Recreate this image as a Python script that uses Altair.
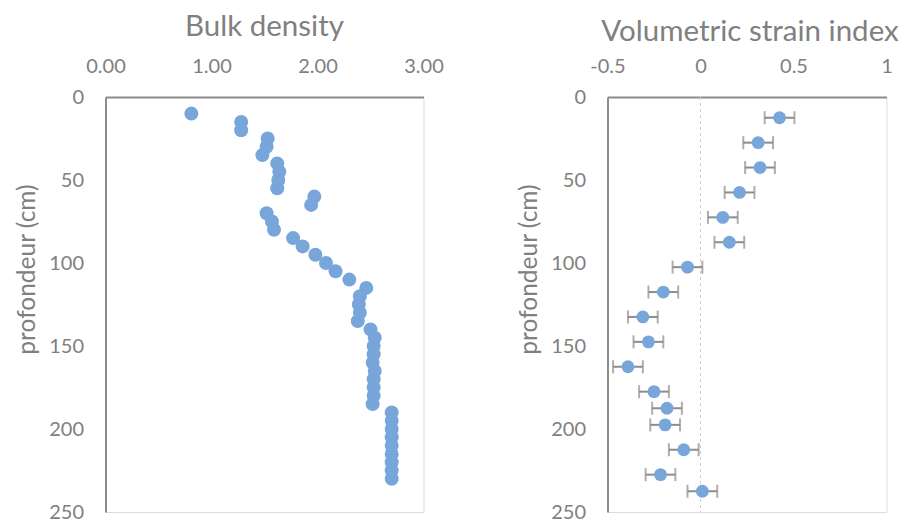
import altair as alt
import pandas as pd

# Bulk density profile
depth_bd = [10, 15, 20, 25, 30, 35, 40, 45, 50, 55, 60, 65, 70, 75, 80, 85, 90, 95,
            100, 105, 110, 115, 120, 125, 130, 135, 140, 145, 150, 155, 160, 165,
            170, 175, 180, 185, 190, 195, 200, 205, 210, 215, 220, 225, 230]
bulk_density = [0.81, 1.28, 1.28, 1.53, 1.52, 1.48, 1.62, 1.64, 1.63, 1.62, 1.97, 1.94,
                1.52, 1.57, 1.59, 1.77, 1.86, 1.98, 2.08, 2.17, 2.30, 2.46, 2.40, 2.39,
                2.40, 2.38, 2.50, 2.54, 2.53, 2.53, 2.52, 2.54, 2.53, 2.53, 2.53, 2.52,
                2.70, 2.70, 2.70, 2.70, 2.70, 2.70, 2.70, 2.70, 2.70]

# Volumetric strain index profile
depth_vsi = [12.5, 27.5, 42.5, 57.5, 72.5, 87.5, 102.5, 117.5, 132.5, 147.5, 162.5,
             177.5, 187.5, 197.5, 212.5, 227.5, 237.5]
vsi = [0.425, 0.31, 0.32, 0.21, 0.12, 0.155, -0.07, -0.20, -0.31, -0.28, -0.39,
       -0.25, -0.18, -0.19, -0.09, -0.215, 0.01]
vsi_err = [0.08] * len(vsi)

zero_line = [0]

x_ticks_bd = [0, 1, 2, 3]
x_ticks_vsi = [-0.5, 0, 0.5, 1]
y_ticks = [0, 50, 100, 150, 200, 250]

df_bd = pd.DataFrame({"depth": depth_bd, "bd": bulk_density})
df_vsi = pd.DataFrame({"depth": depth_vsi, "vsi": vsi, "err": vsi_err})
df_zero = pd.DataFrame({"x": zero_line})

FONT = "Lato"
GREY = "#808080"
AXIS_GREY = "#8c8c8c"
BLUE = "#78a6da"

y_axis = alt.Axis(
    values=y_ticks, title="profondeur (cm)", grid=False, ticks=False,
    domainColor=AXIS_GREY, domainWidth=2, labelColor=GREY, labelFont=FONT,
    labelFontSize=20, labelPadding=22, titleFont=FONT, titleFontSize=24.5,
    titleColor=GREY, titleFontWeight="normal", titlePadding=9, titleY=172,
)
y_enc = alt.Y("depth:Q", scale=alt.Scale(domain=[0, 250], reverse=True, nice=False),
              axis=y_axis)


def x_axis(values, **kw):
    return alt.Axis(
        orient="top", values=values, title=None, grid=False, ticks=False,
        domainColor=AXIS_GREY, domainWidth=2, labelColor=GREY, labelFont=FONT,
        labelFontSize=20, labelPadding=21, labelFlush=False, labelOverlap=False, **kw
    )


left = alt.Chart(df_bd).mark_circle(size=195, color=BLUE, opacity=1).encode(
    x=alt.X("bd:Q", scale=alt.Scale(domain=[0, 3], nice=False),
            axis=x_axis(x_ticks_bd, format=".2f")),
    y=y_enc,
).properties(
    width=318, height=415,
    title=alt.TitleParams("Bulk density", font=FONT, fontSize=29.5, color=GREY,
                          fontWeight="normal", anchor="middle", offset=14),
)

x_vsi = alt.X("vsi:Q", scale=alt.Scale(domain=[-0.5, 1], nice=False),
              axis=x_axis(x_ticks_vsi, labelExpr="datum.value + ''"))

base_r = alt.Chart(df_vsi).transform_calculate(
    lo="datum.vsi - datum.err", hi="datum.vsi + datum.err"
)

rule0 = alt.Chart(df_zero).mark_rule(color="#cfcfcf", strokeDash=[3, 3], strokeWidth=1).encode(
    x=alt.X("x:Q", scale=alt.Scale(domain=[-0.5, 1], nice=False))
)
bars = base_r.mark_rule(color=AXIS_GREY, strokeWidth=2).encode(
    x=alt.X("lo:Q"), x2="hi:Q", y=y_enc
)
caps_lo = base_r.mark_tick(color=AXIS_GREY, orient="vertical", size=13, thickness=2).encode(
    x="lo:Q", y=y_enc
)
caps_hi = base_r.mark_tick(color=AXIS_GREY, orient="vertical", size=13, thickness=2).encode(
    x="hi:Q", y=y_enc
)
pts = base_r.mark_circle(size=165, color=BLUE, opacity=1).encode(x=x_vsi, y=y_enc)

right = alt.layer(rule0, bars, caps_lo, caps_hi, pts).properties(
    width=279, height=415,
    title=alt.TitleParams("Volumetric strain index", font=FONT, fontSize=29.5, color=GREY,
                          fontWeight="normal", anchor="middle", offset=14, dx=3, dy=5),
)

chart = alt.hconcat(left, right, spacing=71).properties(
    padding={"left": 5.5, "top": 3, "right": 0, "bottom": 2}
).configure_view(stroke=None).configure(background="white")

chart.save("out.html", embed_options={"renderer": "svg", "actions": False})
